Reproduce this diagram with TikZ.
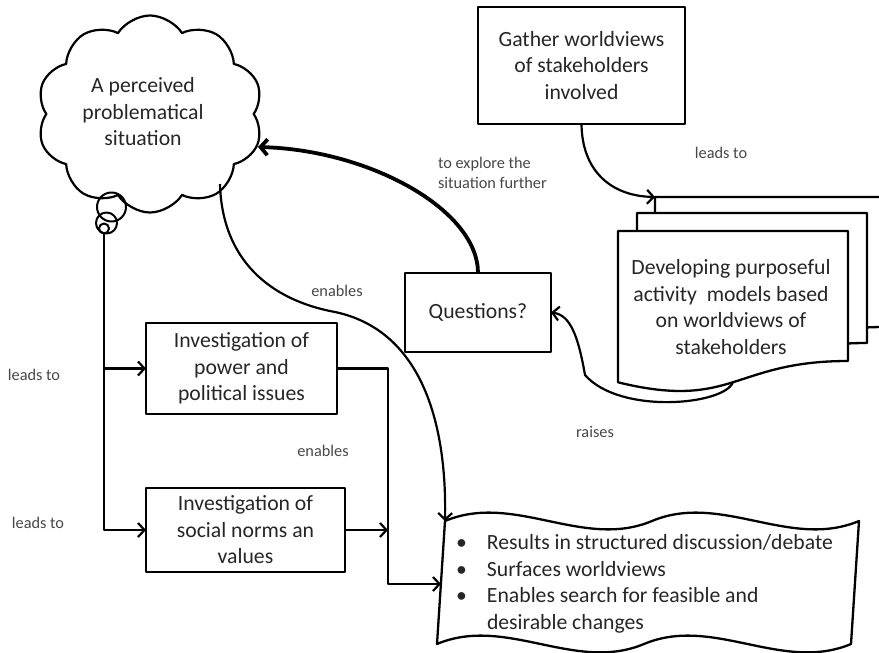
\documentclass[tikz,border=0pt]{standalone}
\usepackage{fontspec}
\setmainfont{Carlito}
\usetikzlibrary{arrows.meta,shapes.symbols}
\begin{document}
\begin{tikzpicture}[x=1pt,y=-1pt,line join=round,
  every node/.style={inner sep=0pt,outer sep=0pt},
  bodytext/.style={align=center,text=black!85,font=\fontsize{21.7}{26.5}\selectfont},
  proc/.style={bodytext,draw,line width=2.3pt,fill=white},
  lbl/.style={align=left,text=black!72,font=\fontsize{16.3}{20}\selectfont},
  outline/.style={line width=2.3pt},
  docpage/.style={outline,fill=white},
  link/.style={line width=2.2pt,-{Straight Barb[length=6.5pt,width=14pt]}},
  strong/.style={line width=3.8pt,-{Straight Barb[length=7pt,width=16pt]}},
  bubble/.style={draw,circle,line width=2pt}]
\useasboundingbox (0,0) rectangle (879,653);
\clip (0,0) rectangle (879,653);

% thought cloud with its trailing bubbles
\node[cloud,draw,line width=2.2pt,cloud puffs=10,cloud puff arc=115,
      cloud ignores aspect,minimum width=226pt,minimum height=197pt] (cloud) at (150,114) {};
\node[bodytext] (cloudtxt) at (143,112) {A perceived\\problematical\\situation};
\node[bubble,minimum size=29pt] (b1) at (111.5,207) {};
\node[bubble,minimum size=21pt] (b2) at (106.5,223) {};
\node[bubble,minimum size=10pt] (b3) at (104,228.5) {};
\coordinate (cloudout) at (220,184);
\coordinate (cloudin) at (258,147);

% process boxes
\node[proc,minimum width=207pt,minimum height=117pt] (gather) at (581.5,65.5)
  {Gather worldviews\\of stakeholders\\involved};
\node[proc,minimum width=146pt,minimum height=79pt] (quest) at (478,312.5) {Questions?};
\node[proc,minimum width=191pt,minimum height=91pt] (power) at (241.5,368.5)
  {Investigation of\\power and\\political issues};
\node[proc,minimum width=199pt,minimum height=84pt] (social) at (245.5,530)
  {Investigation of\\social norms an\\values};

% stacked documents
\foreach \ox/\oy in {655/197,637/213,618/231}{
  \begin{scope}[shift={(\ox,\oy)}]
    \draw[docpage] (0,0) -- (230,0) -- (230,130)
      .. controls (115,130) and (115,179.5) .. (0,151.3) -- cycle;
  \end{scope}}
\coordinate (backcorner) at (655,197);
\coordinate (devbot) at (733,382);
\node[bodytext] (dev) at (731,307)
  {Developing purposeful\\activity\ \ models based\\on worldviews of\\stakeholders};

% wavy results sheet
\draw[docpage] (445,521) .. controls (514,492) and (583,550) .. (652,521)
  .. controls (721,492) and (790,550) .. (859,521) -- (851,644)
  .. controls (782,673) and (713,615) .. (644,644)
  .. controls (575,673) and (506,615) .. (437,644) -- cycle;
\coordinate (rtl) at (445,521);
\coordinate (rin) at (441,584);
\coordinate (junc) at (388,584);
\node[bodytext,align=left,anchor=west] (results) at (456,584)
  {\makebox[31pt][l]{\textbullet}Results in structured discussion/debate\\
   \makebox[31pt][l]{\textbullet}Surfaces worldviews\\
   \makebox[31pt][l]{\textbullet}Enables search for feasible and\\
   \makebox[31pt][l]{}desirable changes};

% connectors
\draw[link] (b3.south) |- (power.west);
\draw[link] (b3.south) |- (social.west);
\draw[link] (power.east) -| (junc) -- (rin);
\draw[link] (social.east) -- (social.east -| junc);
\draw[link] (gather.south) .. controls (582,170) and (610,196) .. (backcorner);
\draw[strong] (quest.north) .. controls (478,210) and (370,150) .. (cloudin);
\draw[link] (devbot) .. controls (725,405) and (620,415) .. (585,375)
  .. controls (578,335) and (570,315) .. (quest.east);
\draw[link] (cloudout) .. controls (222,260) and (270,300) .. (335,312)
  .. controls (420,330) and (447,420) .. (rtl);

% connector labels
\node[lbl] (lgather) at (721,153) {leads to};
\node[lbl,anchor=west] (lexplore) at (438,173) {to explore the\\situation further};
\node[lbl] (lenab1) at (337,291) {enables};
\node[lbl] (lenab2) at (323,451) {enables};
\node[lbl] (llead1) at (34,375) {leads to};
\node[lbl] (llead2) at (38,523) {leads to};
\node[lbl] (lraise) at (595,432) {raises};
\end{tikzpicture}
\end{document}
